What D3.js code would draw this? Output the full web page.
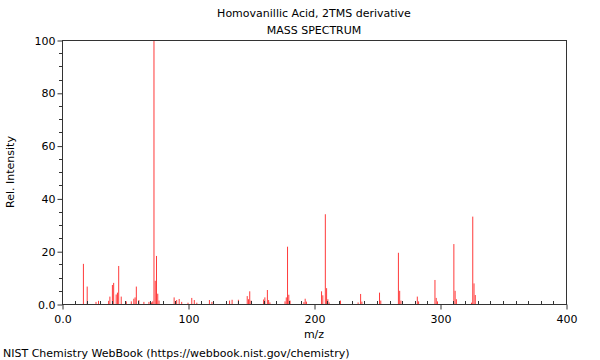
<!DOCTYPE html>
<html>
<head>
<meta charset="utf-8">
<script src="https://cdn.jsdelivr.net/npm/d3@7/dist/d3.min.js"></script>
<style>
  html, body { margin: 0; padding: 0; background: #fff; }
  svg { display: block; font-family: "DejaVu Sans", sans-serif; }
</style>
</head>
<body>
<script>
// ---- data ----
const titleLines = ["Homovanillic Acid, 2TMS derivative", "MASS SPECTRUM"];
const mz = [17, 20, 27, 29, 37, 38, 40, 41, 43, 44, 45, 47, 51, 55, 57, 58, 59, 61, 65, 69, 71, 72,
  73, 74, 75, 76, 77, 89, 91, 93, 95, 100, 103, 105, 107, 117, 119, 133, 135, 140,
  147, 148, 149, 150, 160, 161, 163, 164, 165, 177, 178, 179, 180, 181, 192, 193, 194,
  206, 207, 209, 210, 211, 212, 221, 235, 237, 238, 252, 253, 267, 268, 269, 282, 283,
  296, 297, 298, 311, 312, 313, 325, 326, 327, 328];
const intensity = [15.2, 6.6, 0.8, 1.2, 1.2, 2.8, 7.2, 8.0, 3.6, 4.3, 14.4, 2.8, 1.0, 1.0, 2.0, 2.5, 6.6, 1.5, 0.8, 0.8, 0.6, 1.0,
  100, 8.8, 18.2, 3.9, 1.3, 2.5, 1.5, 1.9, 0.8, 0.5, 2.3, 1.5, 0.5, 1.5, 0.8, 1.3, 1.6, 1.6,
  3.0, 1.8, 4.8, 1.3, 1.7, 2.5, 5.3, 1.5, 0.6, 1.0, 2.5, 21.7, 3.5, 1.3, 0.7, 2.0, 0.9,
  4.8, 3.3, 34.0, 6.0, 1.8, 0.6, 1.3, 0.6, 3.8, 0.9, 4.3, 1.3, 19.4, 5.0, 1.3, 2.8, 1.0,
  9.1, 2.3, 1.0, 22.7, 5.0, 1.8, 0.5, 33.1, 7.8, 3.4];
const xTickValues = [0, 100, 200, 300, 400];
const xTickLabels = ["0.0", "100", "200", "300", "400"];
const yTickValues = [0, 20, 40, 60, 80, 100];
const yTickLabels = ["0.0", "20", "40", "60", "80", "100"];
const xLabel = "m/z";
const yLabel = "Rel. Intensity";
const footer = "NIST Chemistry WebBook (https://webbook.nist.gov/chemistry)";

// ---- layout ----
const W = 600, H = 360;
const pL = 62, pR = 566, pT = 40, pB = 304;

const svg = d3.select("body").append("svg").attr("width", W).attr("height", H);

const x = d3.scaleLinear().domain([0, 400]).range([pL, pR]);
const y = d3.scaleLinear().domain([0, 100]).range([pB, pT]);

// peaks
const peaks = mz.map((m, i) => ({ m, v: intensity[i] }));
svg.append("g").selectAll("line").data(peaks).join("line")
  .attr("x1", d => x(d.m)).attr("x2", d => x(d.m))
  .attr("y1", y(0)).attr("y2", d => y(d.v))
  .attr("stroke", "#ff3a3a").attr("stroke-width", 1);

// frame
svg.append("rect").attr("x", pL + 0.5).attr("y", pT + 0.5)
  .attr("width", pR - pL).attr("height", pB - pT)
  .attr("fill", "none").attr("stroke", "#333").attr("stroke-width", 1);

const tickColor = "#333";
// x minor ticks (inside)
const xMinor = d3.range(0, 401, 10).filter(v => v % 100 !== 0);
svg.append("g").selectAll("line").data(xMinor).join("line")
  .attr("x1", d => Math.round(x(d)) + 0.5).attr("x2", d => Math.round(x(d)) + 0.5)
  .attr("y1", pB + 0.5).attr("y2", pB - 3)
  .attr("stroke", tickColor);
// x major ticks (outside)
const xAxis = d3.axisBottom(x).tickValues(xTickValues)
  .tickFormat((d, i) => xTickLabels[i]).tickSize(5).tickSizeOuter(0);
const gx = svg.append("g").attr("transform", `translate(0.5,${pB + 0.5})`).call(xAxis);
gx.select(".domain").remove();
gx.selectAll(".tick line").attr("stroke", tickColor);
gx.selectAll("text").attr("font-size", 11).attr("fill", "#000").attr("font-family", "DejaVu Sans").attr("dy", "0.95em");

// y minor ticks (outside)
const yMinor = d3.range(0, 101, 5).filter(v => v % 20 !== 0);
svg.append("g").selectAll("line").data(yMinor).join("line")
  .attr("y1", d => Math.round(y(d)) + 0.5).attr("y2", d => Math.round(y(d)) + 0.5)
  .attr("x1", pL + 0.5).attr("x2", pL - 3)
  .attr("stroke", tickColor);
const yAxis = d3.axisLeft(y).tickValues(yTickValues)
  .tickFormat((d, i) => yTickLabels[i]).tickSize(5).tickSizeOuter(0);
const gy = svg.append("g").attr("transform", `translate(${pL + 0.5},0.5)`).call(yAxis);
gy.select(".domain").remove();
gy.selectAll(".tick line").attr("stroke", tickColor);
gy.selectAll("text").attr("font-size", 11).attr("fill", "#000").attr("font-family", "DejaVu Sans").attr("x", -7);

// titles
const cx = (pL + pR) / 2;
svg.append("text").attr("x", cx).attr("y", 17).attr("text-anchor", "middle")
  .attr("font-size", 11).text(titleLines[0]);
svg.append("text").attr("x", cx).attr("y", 34).attr("text-anchor", "middle")
  .attr("font-size", 11).text(titleLines[1]);
svg.append("text").attr("x", cx).attr("y", 338).attr("text-anchor", "middle")
  .attr("font-size", 11).text(xLabel);
svg.append("text").attr("transform", `translate(14,${(pT + pB) / 2}) rotate(-90)`)
  .attr("text-anchor", "middle").attr("font-size", 11).text(yLabel);
svg.append("text").attr("x", 3).attr("y", 357).attr("font-size", 11).text(footer);
</script>
</body>
</html>
